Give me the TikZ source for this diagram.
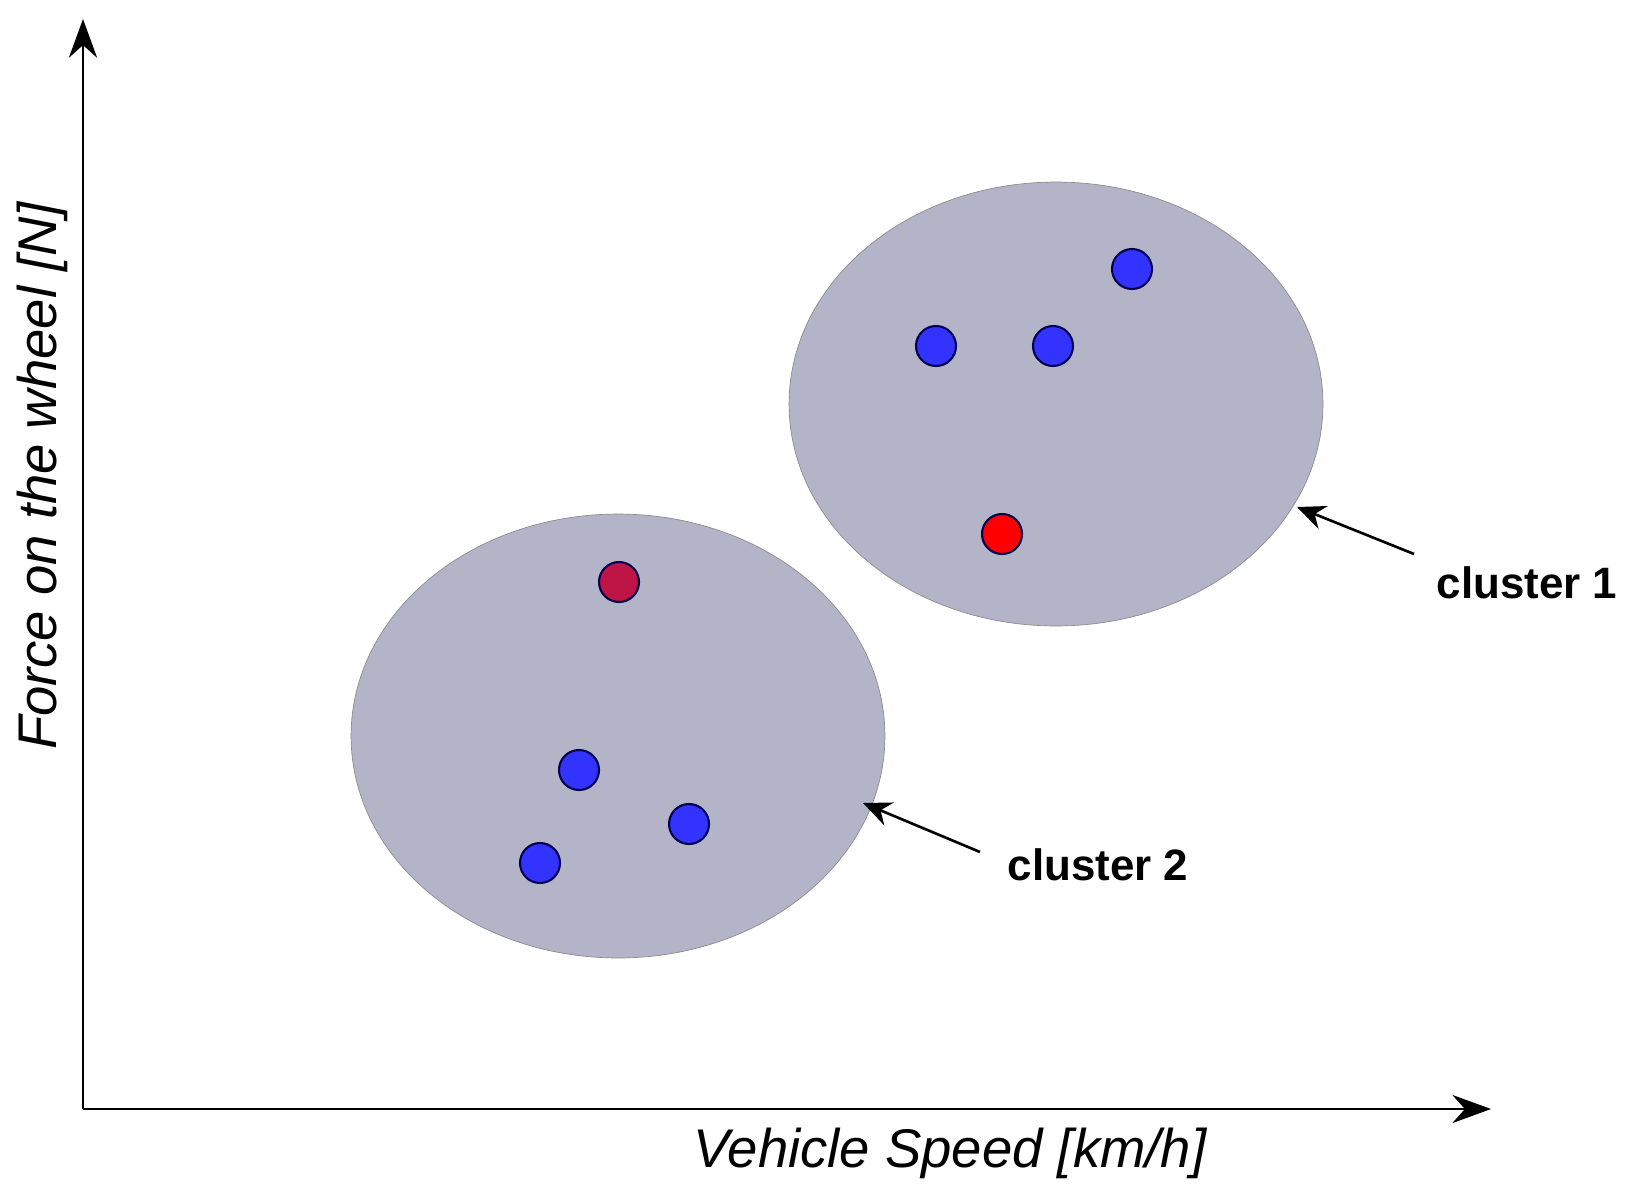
\documentclass[tikz,border=0pt]{standalone}
\usepackage{fontspec}
\setmainfont{Liberation Sans}
\usetikzlibrary{arrows.meta,shapes.geometric}
\definecolor{clusterfill}{RGB}{180,180,200}
\definecolor{dotblue}{RGB}{51,51,255}
\definecolor{dotcrimson}{RGB}{190,20,70}
\tikzset{
  cluster/.style={ellipse,draw=black!45,fill=clusterfill,minimum width=10.68cm,minimum height=8.88cm},
  pt/.style={circle,draw=black!70!blue,line width=1.2pt,minimum size=0.8cm,inner sep=0pt},
  ptr/.style={-{Stealth[length=16pt,width=14pt]},line width=1.5pt},
  lbl/.style={font=\fontsize{25}{30}\selectfont\bfseries}
}
\begin{document}
\begin{tikzpicture}[x=0.02cm,y=-0.02cm] % pixel grid, y downwards
  \useasboundingbox (0,0) rectangle (1632,1194);
  % axes
  \coordinate (origin) at (83,1109);
  \coordinate (ytop) at (83,19);
  \coordinate (xend) at (1491,1109);
  \draw[-{Stealth[length=22pt,width=16pt]},line width=1.5pt] (origin) -- (ytop);
  \draw[-{Stealth[length=22pt,width=16pt]},line width=1.5pt] (origin) -- (xend);
  \node[font=\fontsize{31}{36}\selectfont\itshape] (xlabel) at (950,1153) {Vehicle Speed [km/h]};
  \node[font=\fontsize{31}{36}\selectfont\itshape,rotate=90] (ylabel) at (42,476) {Force on the wheel [N]};
  % clusters
  \node[cluster] (c1) at (1056,404) {};
  \node[cluster] (c2) at (618,736) {};
  % points
  \foreach \n/\px/\py/\col in {a/1132/269/dotblue, b/936/346/dotblue, c/1053/346/dotblue, d/1002/534/red,
      e/619/582/dotcrimson, f/579/770/dotblue, g/689/824/dotblue, h/540/863/dotblue}
    \node[pt,fill=\col] (p\n) at (\px,\py) {};
  % labels
  \node[lbl] (l1) at (1527,583) {cluster 1};
  \node[lbl] (l2) at (1098,865) {cluster 2};
  \coordinate (t1) at (1414,554);
  \coordinate (h1) at (1297,507);
  \coordinate (t2) at (980,852);
  \coordinate (h2) at (863,803);
  \draw[ptr] (t1) -- (h1);
  \draw[ptr] (t2) -- (h2);
\end{tikzpicture}
\end{document}
